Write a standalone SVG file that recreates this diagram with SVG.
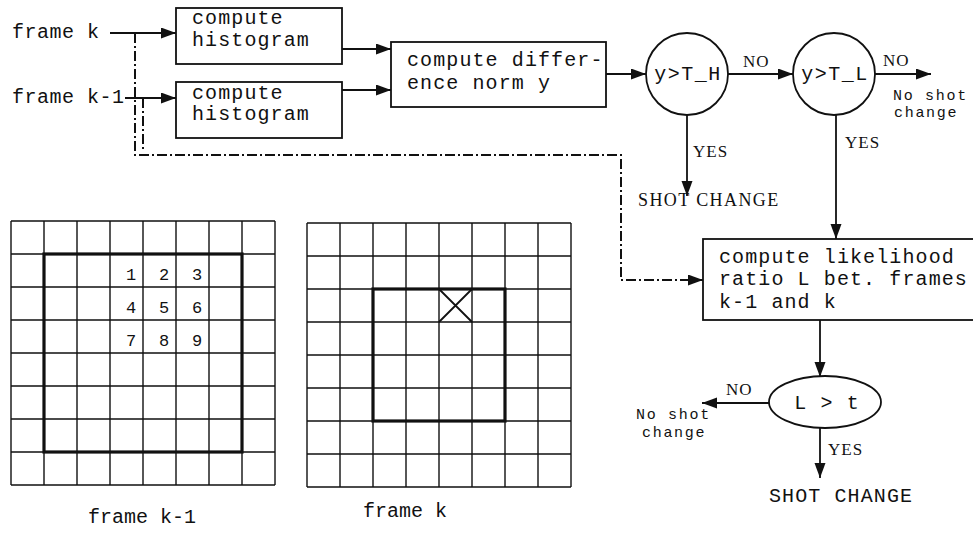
<svg xmlns="http://www.w3.org/2000/svg" width="973" height="540" viewBox="0 0 973 540">
<style>
.mono{font-family:"Liberation Mono","Courier New",monospace;font-size:20px;fill:#111;letter-spacing:1.1px}
.lbl{font-family:"Liberation Mono","Courier New",monospace;font-size:20px;fill:#111;letter-spacing:0.5px}
.small{font-family:"Liberation Mono","Courier New",monospace;font-size:15px;fill:#111;letter-spacing:1.7px}
.serif{font-family:"Liberation Serif","Times New Roman",serif;font-size:17px;fill:#111;letter-spacing:1px}
.box{fill:#fff;stroke:#111;stroke-width:1.8}
.conn{fill:none;stroke:#111;stroke-width:1.8}
.dash{fill:none;stroke:#111;stroke-width:2;stroke-dasharray:10 3 2 3}
.grid{stroke:#111;stroke-width:1.4;fill:none}
.thick{stroke:#111;stroke-width:3.2;fill:none}
.num{font-family:"Liberation Mono","Courier New",monospace;font-size:17px;fill:#111;text-anchor:middle}
</style>
<defs>
<marker id="arr" markerUnits="userSpaceOnUse" markerWidth="16" markerHeight="12" refX="15" refY="5.5" orient="auto">
<path d="M0,0 L15,5.5 L0,11 z" fill="#111"/>
</marker>
</defs>

<g id="connectors">
<line class="conn" x1="110" y1="33" x2="176" y2="33" marker-end="url(#arr)"/>
<line class="conn" x1="125" y1="98" x2="176" y2="98" marker-end="url(#arr)"/>
<line class="conn" x1="342" y1="49" x2="391" y2="49" marker-end="url(#arr)"/>
<line class="conn" x1="342" y1="90" x2="391" y2="90" marker-end="url(#arr)"/>
<line class="conn" x1="606" y1="74" x2="646" y2="74" marker-end="url(#arr)"/>
<line class="conn" x1="728" y1="74" x2="793" y2="74" marker-end="url(#arr)"/>
<line class="conn" x1="875" y1="74" x2="931" y2="74" marker-end="url(#arr)"/>
<line class="conn" x1="687" y1="115" x2="687" y2="196" marker-end="url(#arr)"/>
<line class="conn" x1="836" y1="115" x2="836" y2="239" marker-end="url(#arr)"/>
<line class="conn" x1="820" y1="320" x2="820" y2="377" marker-end="url(#arr)"/>
<line class="conn" x1="769" y1="403" x2="702" y2="403" marker-end="url(#arr)"/>
<line class="conn" x1="820" y1="428" x2="820" y2="478" marker-end="url(#arr)"/>
<path class="dash" d="M135,33 V155 H621 V280 H703" marker-end="url(#arr)"/>
<path class="dash" d="M143,98 V150"/>
</g>

<g id="frame-k-input"><text class="lbl" x="12" y="38">frame k</text></g>
<g id="frame-k1-input"><text class="lbl" x="12" y="103">frame k-1</text></g>

<g id="hist1">
<rect class="box" x="176" y="8" width="166" height="56"/>
<text class="mono" x="192" y="24">compute</text>
<text class="mono" x="192" y="46">histogram</text>
</g>
<g id="hist2">
<rect class="box" x="176" y="82" width="166" height="56"/>
<text class="mono" x="192" y="99">compute</text>
<text class="mono" x="192" y="120">histogram</text>
</g>
<g id="diffnorm">
<rect class="box" x="391" y="42" width="215" height="65"/>
<text class="mono" x="407" y="66">compute differ-</text>
<text class="mono" x="407" y="89">ence norm y</text>
</g>
<g id="test-th">
<circle class="box" cx="687" cy="74" r="41"/>
<text class="mono" x="688" y="80" text-anchor="middle" style="letter-spacing:1.5px">y&gt;T_H</text>
</g>
<g id="test-tl">
<circle class="box" cx="834" cy="74" r="41"/>
<text class="mono" x="835" y="80" text-anchor="middle" style="letter-spacing:1.5px">y&gt;T_L</text>
</g>
<g id="labels-top">
<text class="serif" x="743" y="67">NO</text>
<text class="serif" x="883" y="66">NO</text>
<text class="small" x="893" y="100">No shot</text>
<text class="small" x="894" y="117">change</text>
<text class="serif" x="693" y="157">YES</text>
<text class="serif" x="845" y="148">YES</text>
<text class="serif" x="638" y="206" style="font-size:18px;letter-spacing:1.4px">SHOT CHANGE</text>
</g>
<g id="likelihood">
<rect class="box" x="703" y="239" width="290" height="81"/>
<text class="mono" x="719" y="263">compute likelihood</text>
<text class="mono" x="719" y="285">ratio L bet. frames</text>
<text class="mono" x="719" y="308">k-1 and k</text>
</g>
<g id="test-t">
<ellipse class="box" cx="825" cy="402" rx="56" ry="26"/>
<text class="mono" x="827" y="409" text-anchor="middle">L &gt; t</text>
</g>
<g id="labels-bottom">
<text class="serif" x="726" y="395">NO</text>
<text class="small" x="636" y="419">No shot</text>
<text class="small" x="642" y="437">change</text>
<text class="serif" x="828" y="455">YES</text>
<text class="mono" x="769" y="502">SHOT CHANGE</text>
</g>

<g id="grid-k1">
<path class="grid" d="M11,221 V485 M44,221 V485 M77,221 V485 M110,221 V485 M143,221 V485 M176,221 V485 M209,221 V485 M242,221 V485 M275,221 V485 M11,221 H275 M11,254 H275 M11,287 H275 M11,320 H275 M11,353 H275 M11,386 H275 M11,419 H275 M11,452 H275 M11,485 H275"/>
<rect class="thick" x="44" y="254" width="198" height="198"/>
<text class="num" x="131" y="280">1</text>
<text class="num" x="164" y="280">2</text>
<text class="num" x="197" y="280">3</text>
<text class="num" x="131" y="313">4</text>
<text class="num" x="164" y="313">5</text>
<text class="num" x="197" y="313">6</text>
<text class="num" x="131" y="346">7</text>
<text class="num" x="164" y="346">8</text>
<text class="num" x="197" y="346">9</text>
<text class="lbl" x="88" y="523" style="letter-spacing:0px">frame k-1</text>
</g>
<g id="grid-k">
<path class="grid" d="M307,223 V487 M340,223 V487 M373,223 V487 M406,223 V487 M439,223 V487 M472,223 V487 M505,223 V487 M538,223 V487 M571,223 V487 M307,223 H571 M307,256 H571 M307,289 H571 M307,322 H571 M307,355 H571 M307,388 H571 M307,421 H571 M307,454 H571 M307,487 H571"/>
<rect class="thick" x="373" y="289" width="132" height="132"/>
<path class="grid" d="M439,289 L472,322 M472,289 L439,322" style="stroke-width:1.8"/>
<text class="lbl" x="363" y="517" style="letter-spacing:0px">frame k</text>
</g>
</svg>
